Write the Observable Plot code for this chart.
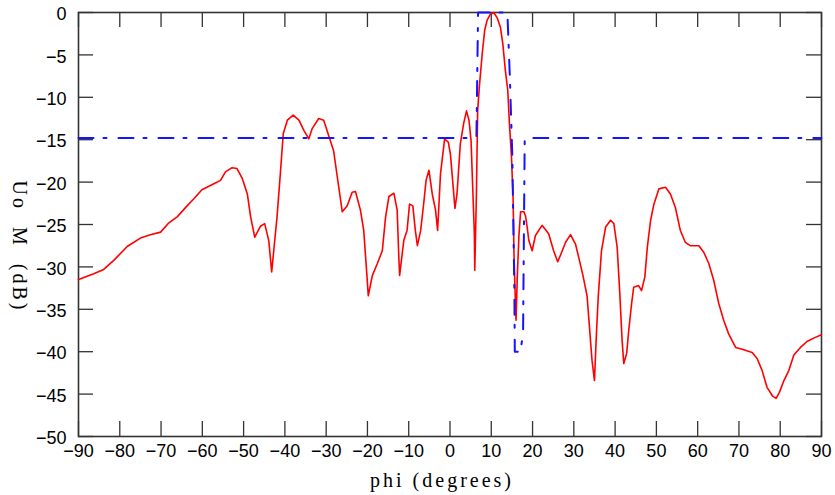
<!DOCTYPE html>
<html><head><meta charset="utf-8">
<script src="https://cdn.jsdelivr.net/npm/d3@7"></script>
<script src="https://cdn.jsdelivr.net/npm/@observablehq/plot@0.6"></script>
<style>
html,body{margin:0;padding:0;background:#fff;}
#chart svg{display:block;}
</style></head><body><div id="chart"></div>
<script>
// Radiation pattern (red)
const phi = [-90,-86.3,-83.9,-81.4,-78.2,-75.0,-72.6,-70.1,-68.1,-66.1,-63.7,-62.1,-60.1,-57.2,-55.6,-54.4,-52.8,-51.6,-50.3,-49.1,-48.3,-47.3,-45.9,-44.9,-43.9,-43.2,-42.7,-41.9,-41.1,-40.4,-39.4,-38.0,-36.6,-35.4,-34.2,-33.4,-31.8,-30.6,-29.4,-28.2,-27.3,-26.1,-24.9,-23.7,-22.9,-21.7,-20.9,-20.1,-19.8,-18.8,-17.6,-16.4,-15.6,-14.8,-13.6,-12.8,-12.4,-12.2,-11.2,-10.4,-9.8,-9.0,-8.4,-7.9,-7.1,-6.3,-5.8,-5.1,-4.3,-3.5,-3.0,-2.3,-1.3,-0.4,0.1,0.5,1.2,1.7,2.5,3.3,4.0,4.6,5.1,5.5,5.9,6.0,6.4,6.7,7.1,7.8,8.4,9.0,9.8,10.6,11.4,12.2,12.8,13.4,14.0,14.4,14.9,15.3,15.5,15.8,16.0,16.3,16.7,17.1,17.9,18.3,18.7,19.1,19.9,20.7,22.3,23.9,25.1,26.1,27.2,28.0,29.2,30.4,31.2,32.2,33.2,33.6,34.4,35.0,35.4,35.9,36.7,37.7,38.9,39.7,40.5,41.1,41.7,42.1,42.8,43.3,44.0,44.5,45.7,46.4,47.2,47.8,48.6,49.4,50.6,52.2,53.4,54.6,55.8,57.0,58.2,60.3,61.5,62.7,63.9,65.1,66.3,67.5,69.2,70.8,73.2,74.4,75.6,76.8,78.1,79.0,79.8,80.9,82.1,83.3,84.9,86.5,88.1,90.0];
const gainDb = [-31.5,-30.8,-30.3,-29.2,-27.6,-26.6,-26.2,-25.9,-24.8,-24.1,-22.8,-22.0,-20.9,-20.2,-19.8,-18.8,-18.3,-18.4,-19.6,-21.4,-24.1,-26.5,-25.2,-24.9,-26.9,-30.6,-28.1,-24.1,-19.0,-14.3,-12.7,-12.1,-12.7,-13.9,-14.9,-13.7,-12.5,-12.7,-14.5,-16.3,-19.4,-23.5,-22.8,-21.2,-21.1,-23.3,-25.7,-31.2,-33.4,-31.0,-29.6,-28.1,-24.1,-21.7,-21.3,-23.3,-28.9,-31.0,-26.9,-25.7,-22.6,-22.8,-25.7,-27.5,-25.7,-22.2,-19.8,-18.6,-21.4,-23.3,-25.7,-19.0,-14.9,-15.3,-16.7,-19.0,-23.1,-21.4,-15.5,-13.1,-11.6,-12.7,-15.1,-20.6,-26.1,-30.4,-21.4,-11.6,-8.8,-4.9,-2.1,-0.9,-0.2,0,-0.6,-1.7,-3.7,-6.8,-9.2,-13.1,-17.1,-22.2,-28.5,-33.4,-36.3,-31.2,-26.3,-23.5,-23.5,-24.0,-25.3,-26.9,-28.1,-26.3,-25.1,-26.1,-28.1,-29.4,-28.1,-27.1,-26.2,-27.3,-28.9,-31.0,-33.4,-35.9,-41.0,-43.4,-38.7,-33.6,-28.1,-25.3,-24.5,-24.9,-27.7,-32.8,-38.7,-41.4,-40.2,-37.5,-34.3,-32.4,-32.2,-32.8,-31.2,-27.7,-24.5,-22.6,-20.8,-20.6,-21.4,-23.0,-25.7,-27.1,-27.5,-27.5,-28.3,-29.6,-31.6,-34.3,-36.3,-37.9,-39.5,-39.7,-40.1,-40.8,-42.2,-44.2,-45.2,-45.5,-44.8,-43.4,-42.2,-40.4,-39.5,-38.8,-38.4,-38.0];
// Mask (blue dash-dot)
const maskPhi = [-90,6.4,6.8,13.9,14.5,15.1,15.6,15.7,17.0,17.7,18.1,90];
const maskDb = [-14.8,-14.8,0,0,-7.6,-17,-33,-40,-40,-38,-14.8,-14.8];
// Ticks and labels
const xTicks = [-90,-80,-70,-60,-50,-40,-30,-20,-10,0,10,20,30,40,50,60,70,80,90];
const yTicks = [0,-5,-10,-15,-20,-25,-30,-35,-40,-45,-50];
const xLabel = "phi (degrees)";
const yLabel = "Uo  M  (dB)";

const pattern = phi.map((p, i) => ({phi: p, db: gainDb[i]}));
const mask = maskPhi.map((p, i) => ({phi: p, db: maskDb[i]}));

const W = 835, H = 495, mL = 78, mR = 14, mT = 12, mB = 59;
const frameW = W - mL - mR, frameH = H - mT - mB;
const tickLen = 15;
const tickColor = "#333";
const serif = "'Liberation Serif', 'Times New Roman', serif";
const chart = Plot.plot({
  width: W, height: H,
  marginLeft: mL, marginRight: mR, marginTop: mT, marginBottom: mB,
  x: {domain: [-90, 90]},
  y: {domain: [-50, 0]},
  marks: [
    // inward tick marks on all four sides (drawn first)
    Plot.ruleX(xTicks, {x: d => d, insetTop: frameH - tickLen, stroke: tickColor, strokeWidth: 1.3}),
    Plot.ruleX(xTicks, {x: d => d, insetBottom: frameH - tickLen, stroke: tickColor, strokeWidth: 1.3}),
    Plot.ruleY(yTicks, {y: d => d, insetRight: frameW - tickLen, stroke: tickColor, strokeWidth: 1.3}),
    Plot.ruleY(yTicks, {y: d => d, insetLeft: frameW - tickLen, stroke: tickColor, strokeWidth: 1.3}),
    Plot.frame({stroke: "#333", strokeWidth: 1.6}),
    Plot.line(pattern, {x: "phi", y: "db", stroke: "#ff0000", strokeWidth: 1.6}),
    Plot.line(mask, {x: "phi", y: "db", stroke: "#1414ff", strokeWidth: 2, strokeDasharray: "15,10,3,12"}),
    // tick labels
    Plot.axisX(xTicks, {anchor: "bottom", tickSize: 0, tickPadding: 8, label: null, fill: "black", fontSize: 18, fontFamily: "'Liberation Sans', Arial, sans-serif"}),
    Plot.axisY(yTicks, {anchor: "left", tickSize: 0, tickPadding: 12, label: null, fill: "black", dy: 2, fontSize: 18, fontFamily: "'Liberation Sans', Arial, sans-serif"}),
    // axis titles
    Plot.text([xLabel], {frameAnchor: "bottom", textAnchor: "middle", lineAnchor: "middle", dx: -8, dy: 44, fontFamily: serif, fontSize: 20, fill: "black"}),
    Plot.text([yLabel], {frameAnchor: "left", textAnchor: "middle", lineAnchor: "middle", dx: -59, dy: 22, rotate: 90, fontFamily: serif, fontSize: 20, fill: "black"})
  ]
});
chart.querySelectorAll('g[aria-label="text"] text').forEach(t => t.style.letterSpacing = "3px");
document.getElementById("chart").append(chart);
</script>
</body></html>
